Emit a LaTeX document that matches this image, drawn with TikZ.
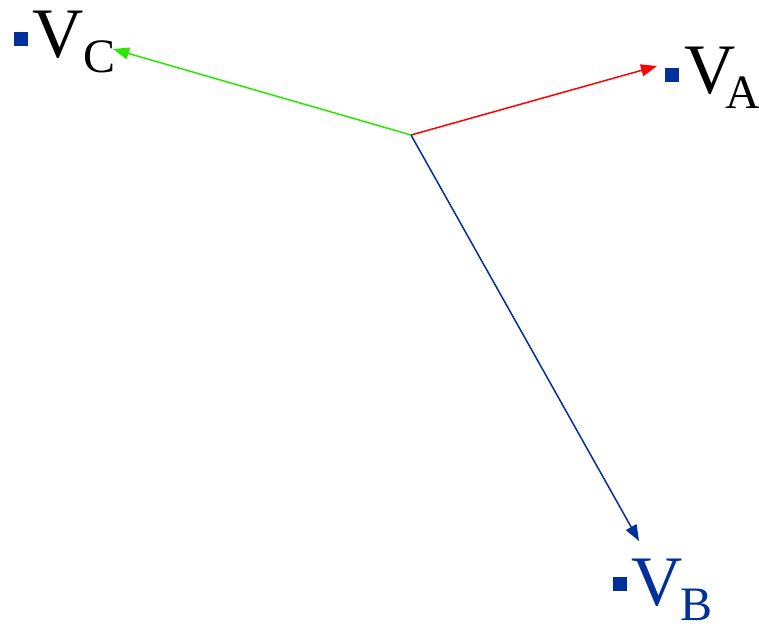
\documentclass[tikz,border=0pt]{standalone}
\usepackage{fontspec}
\setmainfont{Liberation Serif}
\usetikzlibrary{arrows.meta, positioning}
\definecolor{phasered}{RGB}{255,0,0}
\definecolor{phasegreen}{RGB}{40,232,0}
\definecolor{phaseblue}{RGB}{0,48,154}
\newcommand{\phsub}[2][0pt]{\kern#1\raisebox{-7.5pt}{\fontsize{24}{28}\selectfont #2}}

\begin{document}
\begin{tikzpicture}[x=0.5pt, y=-0.5pt,
    phasor/.style={-{Triangle[length=8pt, width=6pt]}, line width=0.75pt},
    bullet/.style={rectangle, fill=phaseblue, minimum size=7pt, inner sep=0pt},
    lbl/.style={anchor=base west, inner sep=0pt, font=\fontsize{35.5}{40}\selectfont}]
\useasboundingbox (0,0) rectangle (759,623);
\coordinate (o) at (411,135);
\coordinate (tipA) at (657,66);
\coordinate (tipB) at (639,541);
\coordinate (tipC) at (113,49);
\node[bullet] (sqA) at (672,74.5) {};
\node[bullet] (sqB) at (619.5,584) {};
\node[bullet] (sqC) at (21,39) {};
\node[lbl] (va) at (684,93) {V\phsub[-5pt]{A}};
\node[lbl, text=phaseblue] (vb) at (631,605) {V\phsub[-1pt]{B}};
\node[lbl] (vc) at (32,57) {V\phsub{C}};
\draw[phasor, phasered] (o) -- (tipA);
\draw[phasor, phaseblue] (o) -- (tipB);
\draw[phasor, phasegreen] (o) -- (tipC);
\end{tikzpicture}
\end{document}
